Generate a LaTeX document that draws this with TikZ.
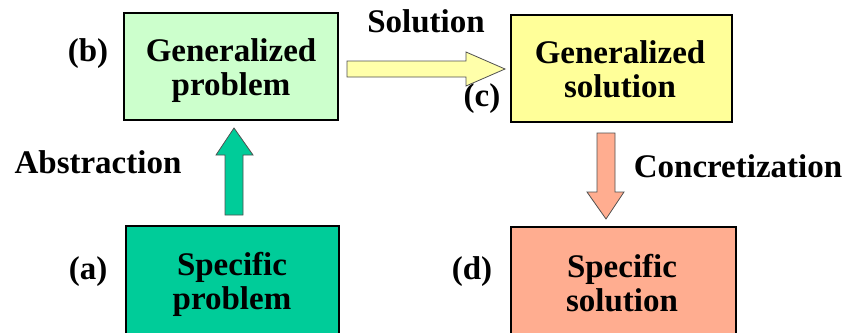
\documentclass[tikz,border=0pt]{standalone}
\usepackage{fontspec}
\setmainfont{Liberation Serif}
\usetikzlibrary{positioning}

\definecolor{genprob}{HTML}{CCFFCC}
\definecolor{gensol}{HTML}{FFFF99}
\definecolor{specprob}{HTML}{00CC99}
\definecolor{specsol}{HTML}{FFAD90}
\definecolor{solarrow}{HTML}{FFFFAA}
\definecolor{arrowedge}{HTML}{505050}

\tikzset{
  stagebox/.style={draw=black, line width=2.5pt, inner sep=0pt},
  txt/.style={font=\bfseries\fontsize{33}{34}\selectfont, inner sep=0pt, align=center, anchor=base},
  blockarrow/.style={draw=arrowedge, line width=0.8pt, line join=miter}
}

\begin{document}
\begin{tikzpicture}[x=1pt, y=-1pt]
  \useasboundingbox (0,0) rectangle (845,332);
  \clip (0,0) rectangle (845,332);

  % the four stages
  \node[stagebox, fill=genprob,  minimum width=214pt, minimum height=107pt] (gp) at (231,66.5) {};
  \node[stagebox, fill=gensol,   minimum width=221pt, minimum height=107pt] (gs) at (621.5,68.5) {};
  \node[stagebox, fill=specprob, minimum width=213pt, minimum height=130pt] (sp) at (232.5,291) {};
  \node[stagebox, fill=specsol,  minimum width=225pt, minimum height=130pt] (ss) at (623.5,292) {};

  % stage texts (anchored at the baseline of their last line)
  \node[txt] (gpt) at (231,95)  {Generalized\\problem};
  \node[txt] (gst) at (620,97)  {Generalized\\solution};
  \node[txt] (spt) at (232,309) {Specific\\problem};
  \node[txt] (sst) at (622,311) {Specific\\solution};

  % stage letters
  \node[txt] (la) at (88,279)  {(a)};
  \node[txt] (lb) at (88,61)   {(b)};
  \node[txt] (lc) at (482,106) {(c)};
  \node[txt] (ld) at (472,279) {(d)};

  % transition labels
  \node[txt] (abs) at (98,173)  {Abstraction};
  \node[txt] (sol) at (426,32)  {Solution};
  \node[txt] (con) at (738,177) {Concretization};

  % block arrows between the stages
  \draw[blockarrow, fill=specprob]
    (225,215) -- (225,155) -- (216,155) -- (234,128) -- (253,155) -- (243,155) -- (243,215) -- cycle;
  \draw[blockarrow, fill=solarrow]
    (347,61) -- (466,61) -- (466,52) -- (505,69) -- (466,86) -- (466,77) -- (347,77) -- cycle;
  \draw[blockarrow, fill=specsol]
    (597,133) -- (615,133) -- (615,192) -- (624,192) -- (606,219) -- (587,192) -- (597,192) -- cycle;
\end{tikzpicture}
\end{document}
